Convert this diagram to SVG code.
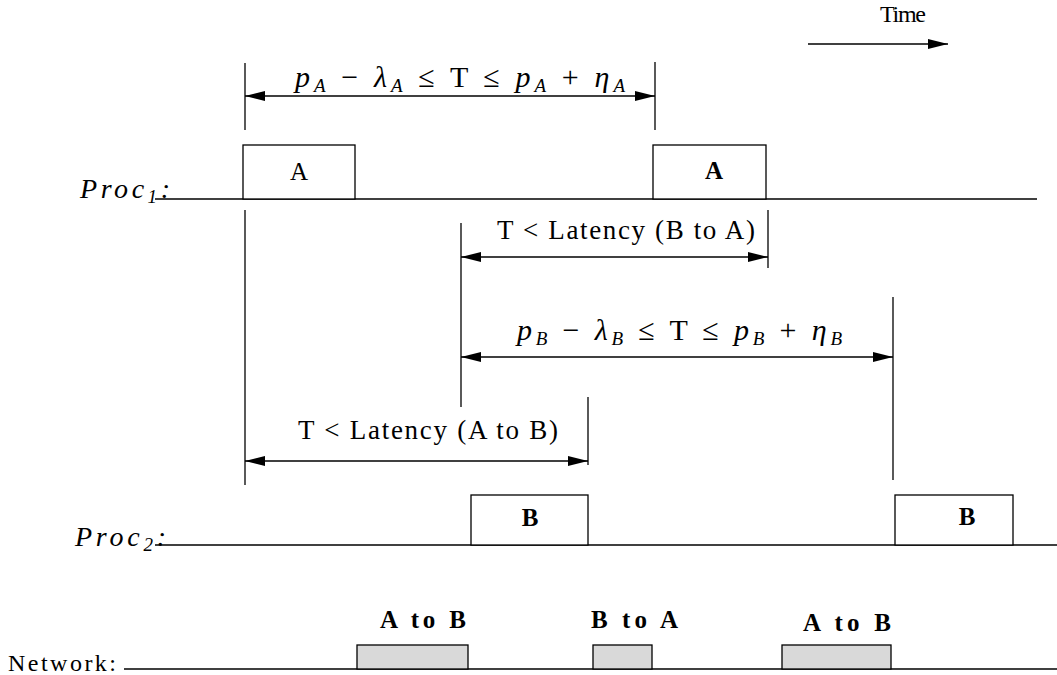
<svg xmlns="http://www.w3.org/2000/svg" width="1057" height="675" viewBox="0 0 1057 675">
<style>
.ln{stroke:#000;stroke-width:1.3;fill:none}
.bx{stroke:#000;stroke-width:1.3;fill:#fff}
.nb{stroke:#000;stroke-width:1.3;fill:#d9d9d9}
.t{font-family:'Liberation Serif','DejaVu Serif','Times New Roman',serif;font-size:27px;fill:#000}
.b{font-family:'Liberation Serif','DejaVu Serif','Times New Roman',serif;font-size:25px;font-weight:bold;fill:#000}
.m{font-size:30px}
.i{font-style:italic}
.s{font-size:19px}
</style>
<defs>
<marker id="ah" viewBox="0 0 20 10" refX="20" refY="5" markerWidth="20" markerHeight="10" markerUnits="userSpaceOnUse" orient="auto-start-reverse"><path d="M0,0 L20,5 L0,10 z" fill="#000"/></marker>
</defs>
<rect width="1057" height="675" fill="#fff"/>
<g id="time">
<text class="t" x="880" y="22" textLength="46" style="font-size:24px">Time</text>
<line class="ln" x1="808" y1="44" x2="948" y2="44" marker-end="url(#ah)"/>
</g>
<g id="proc1">
<text class="t i" x="80" y="198" textLength="90" style="font-size:28px">Proc<tspan class="s" dy="5">1</tspan><tspan dy="-5">:</tspan></text>
<line class="ln" x1="155" y1="199" x2="1037" y2="199"/>
</g>
<g id="boxA1"><rect class="bx" x="243" y="145" width="112" height="54"/><text class="t" x="299" y="180" text-anchor="middle" style="font-size:25px">A</text></g>
<g id="boxA2"><rect class="bx" x="653" y="145" width="113" height="54"/><text class="b" x="714" y="179" text-anchor="middle">A</text></g>
<g id="proc2">
<text class="t i" x="75" y="546" textLength="91" style="font-size:28px">Proc<tspan class="s" dy="5">2</tspan><tspan dy="-5">:</tspan></text>
<line class="ln" x1="155" y1="545" x2="1057" y2="545"/>
</g>
<g id="boxB1"><rect class="bx" x="471" y="495" width="117" height="50"/><text class="b" x="530" y="526" text-anchor="middle">B</text></g>
<g id="boxB2"><rect class="bx" x="895" y="495" width="118" height="50"/><text class="b" x="967" y="525" text-anchor="middle">B</text></g>
<g id="network">
<text class="t" x="8" y="671" textLength="108" style="font-size:24px">Network:</text>
<line class="ln" x1="124" y1="669" x2="1057" y2="669"/>
<rect class="nb" x="357" y="645" width="111" height="24"/>
<rect class="nb" x="593" y="645" width="59" height="24"/>
<rect class="nb" x="782" y="645" width="109" height="24"/>
<text class="b" x="380" y="628" textLength="86">A to B</text>
<text class="b" x="591" y="628" textLength="87">B to A</text>
<text class="b" x="803" y="631" textLength="88">A to B</text>
</g>
<g id="connectors">
<line class="ln" x1="245" y1="63" x2="245" y2="130"/>
<line class="ln" x1="655" y1="62" x2="655" y2="130"/>
<line class="ln" x1="245" y1="96" x2="655" y2="96" marker-start="url(#ah)" marker-end="url(#ah)"/>
<line class="ln" x1="245" y1="210" x2="245" y2="485"/>
<line class="ln" x1="461" y1="223" x2="461" y2="407"/>
<line class="ln" x1="768" y1="210" x2="768" y2="268"/>
<line class="ln" x1="461" y1="257" x2="768" y2="257" marker-start="url(#ah)" marker-end="url(#ah)"/>
<line class="ln" x1="893" y1="297" x2="893" y2="480"/>
<line class="ln" x1="461" y1="357" x2="893" y2="357" marker-start="url(#ah)" marker-end="url(#ah)"/>
<line class="ln" x1="588" y1="397" x2="588" y2="465"/>
<line class="ln" x1="245" y1="461" x2="588" y2="461" marker-start="url(#ah)" marker-end="url(#ah)"/>
</g>
<g id="labels">
<text class="t m" x="295" y="87" textLength="330"><tspan class="i">p</tspan><tspan class="s i" dy="5">A</tspan><tspan dy="-5"> − </tspan><tspan class="i">λ</tspan><tspan class="s i" dy="5">A</tspan><tspan dy="-5"> ≤ T ≤ </tspan><tspan class="i">p</tspan><tspan class="s i" dy="5">A</tspan><tspan dy="-5"> + </tspan><tspan class="i">η</tspan><tspan class="s i" dy="5">A</tspan></text>
<text class="t" x="497" y="239" textLength="258">T &lt; Latency (B to A)</text>
<text class="t m" x="517" y="340" textLength="325"><tspan class="i">p</tspan><tspan class="s i" dy="5">B</tspan><tspan dy="-5"> − </tspan><tspan class="i">λ</tspan><tspan class="s i" dy="5">B</tspan><tspan dy="-5"> ≤ T ≤ </tspan><tspan class="i">p</tspan><tspan class="s i" dy="5">B</tspan><tspan dy="-5"> + </tspan><tspan class="i">η</tspan><tspan class="s i" dy="5">B</tspan></text>
<text class="t" x="298" y="439" textLength="260">T &lt; Latency (A to B)</text>
</g>
</svg>
